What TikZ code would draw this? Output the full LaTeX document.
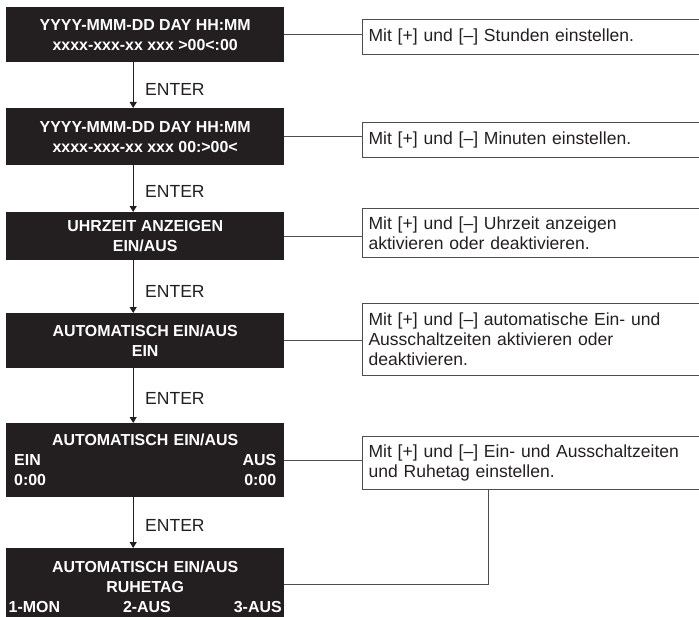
\documentclass[tikz,border=0pt]{standalone}
\usepackage{fontspec}
\setmainfont{Liberation Sans}
\usetikzlibrary{arrows.meta}
\definecolor{ink}{HTML}{231F20}
\definecolor{edge}{HTML}{4D4D4D}
\begin{document}
\begin{tikzpicture}[x=1bp,y=-1bp,
  lcd/.style={fill=ink, draw=none, text=white, font=\fontsize{16}{20}\selectfont\bfseries,
    minimum width=278bp, inner sep=0pt, align=center, anchor=north west},
  note/.style={draw=edge, line width=1bp, font=\fontsize{17.6}{20}\selectfont, text=ink,
    minimum width=343bp, text width=331bp, inner sep=6bp, align=left, anchor=north west},
  flow/.style={draw=ink, line width=1bp, -{Triangle[width=7bp,length=6bp]}},
  link/.style={draw=edge, line width=1bp},
  lbl/.style={font=\fontsize{17.6}{20}\selectfont, text=ink, anchor=west, inner sep=0pt}]
\useasboundingbox (0,0) rectangle (699,617);
% display boxes
\node[lcd, minimum height=55bp] (B1) at (6,7) {YYYY-MMM-DD DAY HH:MM\\xxxx-xxx-xx xxx >00<:00};
\node[lcd, minimum height=57bp] (B2) at (6,108) {YYYY-MMM-DD DAY HH:MM\\xxxx-xxx-xx xxx 00:>00<};
\node[lcd, minimum height=48bp] (B3) at (6,212) {UHRZEIT ANZEIGEN\\EIN/AUS};
\node[lcd, minimum height=55bp] (B4) at (6,313) {AUTOMATISCH EIN/AUS\\EIN};
\node[lcd, minimum height=74bp, text width=262bp] (B5) at (6,423) {AUTOMATISCH EIN/AUS\\EIN\hfill AUS\\0:00\hfill 0:00};
\node[lcd, minimum height=78bp, text width=273bp] (B6) at (6,548) {AUTOMATISCH EIN/AUS\\RUHETAG\\1-MON\hfill 2-AUS\hfill 3-AUS};
% notes
\node[note, minimum height=35bp] (R1) at (362,19) {Mit [+] und [–] Stunden einstellen.};
\node[note, minimum height=35bp] (R2) at (362,122) {Mit [+] und [–] Minuten einstellen.};
\node[note, minimum height=49bp] (R3) at (362,208) {Mit [+] und [–] Uhrzeit anzeigen\\aktivieren oder deaktivieren.};
\node[note, minimum height=72bp] (R4) at (362,303) {Mit [+] und [–] automatische Ein- und\\Ausschaltzeiten aktivieren oder\\deaktivieren.};
\node[note, minimum height=53bp] (R5) at (362,436) {Mit [+] und [–] Ein- und Ausschaltzeiten\\und Ruhetag einstellen.};
% ENTER labels
\node[lbl] (E1) at (145,89) {ENTER};
\node[lbl] (E2) at (145,191) {ENTER};
\node[lbl] (E3) at (145,291) {ENTER};
\node[lbl] (E4) at (145,398) {ENTER};
\node[lbl] (E5) at (145,525) {ENTER};
% flow arrows
\draw[flow] ([xshift=-12bp]B1.south) -- ([xshift=-12bp]B2.north);
\draw[flow] ([xshift=-12bp]B2.south) -- ([xshift=-12bp]B3.north);
\draw[flow] ([xshift=-12bp]B3.south) -- ([xshift=-12bp]B4.north);
\draw[flow] ([xshift=-12bp]B4.south) -- ([xshift=-12bp]B5.north);
\draw[flow] ([xshift=-12bp]B5.south) -- ([xshift=-12bp]B6.north);
% links to notes
\draw[link] (B1.east) -- (B1.east -| R1.west);
\draw[link] (B2.east) -- (B2.east -| R2.west);
\draw[link] (B3.east) -- (B3.east -| R3.west);
\draw[link] (B4.east) -- (B4.east -| R4.west);
\draw[link] (B5.east) -- (B5.east -| R5.west);
\coordinate (K) at (488,584);
\draw[link] (B6.east |- K) -- (K) -- (K |- R5.south);
\end{tikzpicture}
\end{document}
